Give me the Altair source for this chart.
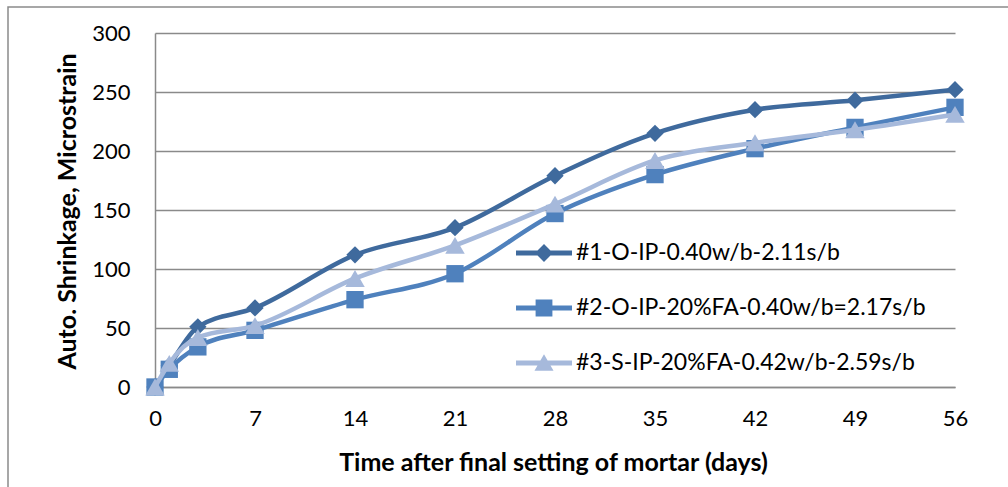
import altair as alt
import pandas as pd

days = [0, 1, 3, 7, 14, 21, 28, 35, 42, 49, 56]
s1 = [0, 18, 51, 67, 112, 135, 179, 215, 235, 243, 252]
s2 = [0, 15, 34, 48, 74, 96, 147, 180, 202, 220, 237]
s3 = [0, 20, 42, 52, 92, 120, 155, 192, 207, 218, 231]
names = ["#1-O-IP-0.40w/b-2.11s/b", "#2-O-IP-20%FA-0.40w/b=2.17s/b", "#3-S-IP-20%FA-0.42w/b-2.59s/b"]
colors = ["#3F6A9D", "#4F81BD", "#A6B9DB"]
shapes = ["diamond", "square", "triangle-up"]
sizes = [300, 300, 380]
x_ticks = [0, 7, 14, 21, 28, 35, 42, 49, 56]
y_ticks = [0, 50, 100, 150, 200, 250, 300]

# legend symbols: line segment + marker (custom paths)
line_part = "M-2,-0.17H2V0.17H-2Z"
legend_paths = [
    line_part + "M0,-0.64L0.64,0L0,0.64L-0.64,0Z",
    line_part + "M-0.6,-0.6H0.6V0.6H-0.6Z",
    line_part + "M0,-0.62L0.68,0.55H-0.68Z",
]

rows = []
for name, vals in zip(names, [s1, s2, s3]):
    for d, v in zip(days, vals):
        rows.append({"day": d, "value": v, "series": name})
df = pd.DataFrame(rows)

FONT = "Lato"
GRAY = "#8A8A8A"

x_enc = alt.X("day:Q", scale=alt.Scale(domain=[0, 56], nice=False),
              axis=alt.Axis(values=x_ticks, grid=False, ticks=False, domain=True,
                            domainColor=GRAY, domainWidth=1.5, labelFlush=False,
                            labelFontSize=22, labelPadding=21, labelColor="#000",
                            labelFont=FONT,
                            title="Time after final setting of mortar (days)",
                            titleFont=FONT, titleFontSize=25, titleFontWeight="bold",
                            titleColor="#000", titleX=398, titleY=75,
                            titleBaseline="middle", titleAlign="center"))
y_enc = alt.Y("value:Q", scale=alt.Scale(domain=[0, 300], nice=False),
              axis=alt.Axis(values=y_ticks, grid=True, gridColor=GRAY, gridWidth=1.5,
                            ticks=False, domain=True, domainColor=GRAY, domainWidth=1.5,
                            labelFontSize=22, labelPadding=25, labelColor="#000",
                            labelFont=FONT,
                            title="Auto. Shrinkage, Microstrain",
                            titleFont=FONT, titleFontSize=25, titleFontWeight="bold",
                            titleColor="#000", titleX=-88, titleY=178, titleAngle=-90,
                            titleBaseline="middle", titleAlign="center"))

base = alt.Chart(df)
layers = []
for name, col, shp, sz in zip(names, colors, shapes, sizes):
    sub = base.transform_filter(alt.datum.series == name)
    layers.append(sub.mark_line(color=col, strokeWidth=4.5, interpolate="monotone")
                  .encode(x=x_enc, y=y_enc))
    layers.append(sub.mark_point(color=col, filled=True, shape=shp, size=sz, opacity=1)
                  .encode(x=x_enc, y=y_enc))

leg = alt.Legend(title=None, orient="none", legendX=375, legendY=206,
                 labelFontSize=23, labelFont=FONT, labelColor="#000", labelLimit=600,
                 symbolSize=784, rowPadding=29, labelOffset=18, padding=0,
                 symbolStrokeWidth=0)
legend_layer = base.transform_filter("false").mark_point(filled=True, size=784, opacity=1).encode(
    x=x_enc, y=y_enc,
    color=alt.Color("series:N", scale=alt.Scale(domain=names, range=colors), legend=leg),
    shape=alt.Shape("series:N", scale=alt.Scale(domain=names, range=legend_paths), legend=leg),
)

border = alt.Chart(pd.DataFrame({"a": [0]})).mark_rect(
    fillOpacity=0, stroke=GRAY, strokeWidth=1.5
).encode(x=alt.value(-147), x2=alt.value(870), y=alt.value(-26), y2=alt.value(470))

chart = alt.layer(border, *layers, legend_layer).properties(
    width=800, height=354,
    padding={"left": 155, "top": 33, "right": 53, "bottom": 100},
    autosize=alt.AutoSizeParams(type="none"),
    background="white",
).configure_view(stroke=None)

chart.save("out.html", embed_options={"renderer": "svg", "actions": False})
